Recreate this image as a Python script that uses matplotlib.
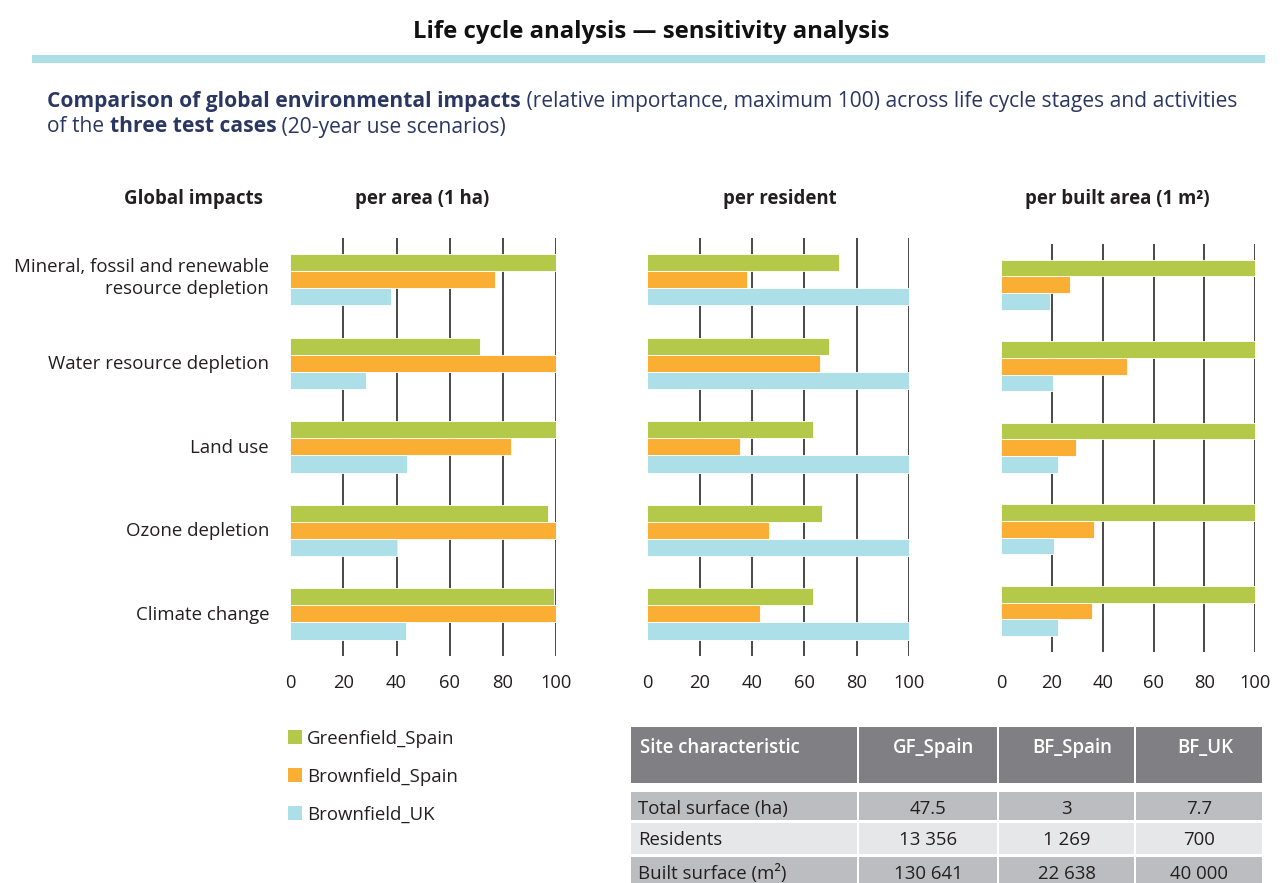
import matplotlib
matplotlib.use("Agg")
import matplotlib.pyplot as plt
from matplotlib.patches import Rectangle

plt.rcParams["font.family"] = ["Open Sans", "DejaVu Sans"]

# ---- data -------------------------------------------------------------
impacts = [
    "Mineral, fossil and renewable\nresource depletion",
    "Water resource depletion",
    "Land use",
    "Ozone depletion",
    "Climate change",
]
series = ["Greenfield_Spain", "Brownfield_Spain", "Brownfield_UK"]
colors = ["#b4c94a", "#faae33", "#addfe8"]

# relative importance (max 100), one list per series, in impact order
per_area = [
    [100, 71.5, 100, 97, 99.3],
    [77, 100, 83, 100, 100],
    [38, 28.5, 44, 40, 43.5],
]
per_resident = [
    [73.3, 69.4, 63.1, 66.8, 63.1],
    [38.2, 65.9, 35.5, 46.6, 43.0],
    [100, 100, 100, 100, 100],
]
per_built = [
    [100, 100, 100, 100, 100],
    [27.2, 49.7, 29.4, 36.4, 35.6],
    [19.2, 20.3, 22.2, 20.9, 22.2],
]
panel_titles = ["per area (1 ha)", "per resident", "per built area (1 m\u00b2)"]
xticks = [0, 20, 40, 60, 80, 100]

table_header = ["Site characteristic", "GF_Spain", "BF_Spain", "BF_UK"]
table_rows = ["Total surface (ha)", "Residents", "Built surface (m\u00b2)"]
table_values = [
    ["47.5", "3", "7.7"],
    ["13 356", "1 269", "700"],
    ["130 641", "22 638", "40 000"],
]

# ---- figure -----------------------------------------------------------
W, H = 1282, 883
fig = plt.figure(figsize=(W / 100, H / 100), dpi=100)
txt = "#231f20"
navy = "#2b3763"
fs = 13.4

# overlay in pixel coordinates for titles, legend, table
ov = fig.add_axes([0, 0, 1, 1])
ov.set_xlim(0, W)
ov.set_ylim(H, 0)
ov.axis("off")


def px_axes(x0, y0, x1, y1):
    return fig.add_axes([x0 / W, 1 - y1 / H, (x1 - x0) / W, (y1 - y0) / H])


panels = [
    (px_axes(290.3, 238, 556, 655.7), per_area, 13),
    (px_axes(647.3, 238, 909.3, 655.7), per_resident, 13),
    (px_axes(1001.3, 244, 1255, 651.7), per_built, 16),
]
h = 0.205
ypos = list(range(len(impacts)))
for ax, data, pad in panels:
    for k, (vals, c) in enumerate(zip(data, colors)):
        ax.barh([y + (k - 1) * h for y in ypos], vals, height=h, color=c,
                edgecolor="white", linewidth=0.6, zorder=3)
    ax.vlines(xticks[1:], -0.5, len(impacts) - 0.5, color="#3a3a3a",
              linewidth=1.3, zorder=2)
    ax.set_xlim(0, 100)
    ax.set_ylim(len(impacts) - 0.5, -0.5)
    ax.set_xticks(xticks)
    ax.set_yticks([])
    ax.tick_params(axis="x", length=0, pad=pad, labelsize=13.2, labelcolor=txt)
    for s in ax.spines.values():
        s.set_visible(False)
    ax.patch.set_alpha(0)

# category labels
ax0 = panels[0][0]
for y, lab in zip(ypos, impacts):
    dy = -0.02 if "\n" in lab else 0.01
    ax0.text(-0.08, y + dy, lab, transform=ax0.get_yaxis_transform(),
             ha="right", va="center", fontsize=fs, color=txt, linespacing=1.3)

# column headers
ov.text(263, 199, "Global impacts", ha="right", va="center", fontsize=fs,
        fontweight="bold", color=txt)
for cx, t in zip([422, 780, 1117], panel_titles):
    ov.text(cx, 199, t, ha="center", va="center", fontsize=fs,
            fontweight="bold", color=txt)

# title and band
ov.text(651, 32, "Life cycle analysis \u2014 sensitivity analysis", ha="center",
        va="center", fontsize=17.2, fontweight="bold", color="#111111")
ov.add_patch(Rectangle((32, 55), 1233, 7.5, color="#addfe7", lw=0))

# subtitle with mixed weights
fig.canvas.draw()
rend = fig.canvas.get_renderer()


def run(parts, x, y):
    for s, bold in parts:
        t = ov.text(x, y, s, ha="left", va="center", fontsize=15.1, color=navy,
                    fontweight="bold" if bold else "normal")
        bb = t.get_window_extent(renderer=rend)
        x += bb.width


run([("Comparison of global environmental impacts", True),
     (" (relative importance, maximum 100) across life cycle stages and activities", False)],
    47, 102)
run([("of the ", False), ("three test cases", True),
     (" (20-year use scenarios)", False)], 47, 127)

# legend
for i, (name, c) in enumerate(zip(series, colors)):
    y = 737 + i * 38
    ov.add_patch(Rectangle((288, y - 7), 14, 14, color=c, lw=0))
    ov.text(307, y + 2, name, ha="left", va="center", fontsize=fs, color=txt)

# table
cols = [(631, 857), (859, 997), (999, 1134), (1136, 1262)]
ov.add_patch(Rectangle((631, 727), 1262 - 631, 56, color="#808084", lw=0))
for (a, b) in cols[1:]:
    ov.add_patch(Rectangle((a - 2, 727), 2, 56, color="white", lw=0))
for j, (lab, (a, b)) in enumerate(zip(table_header, cols)):
    if j == 0:
        ov.text(a + 9, 748, lab, ha="left", va="center", fontsize=fs,
                color="white", fontweight="semibold")
    else:
        ov.text((a + b) / 2 + 6, 748, lab, ha="center", va="center",
                fontsize=fs, color="white", fontweight="semibold")

row_tops = [792, 823, 857]
row_h = [28, 31, 30]
row_col = ["#bcbdc0", "#e6e7e8", "#bcbdc0"]
for r, (lab, vals) in enumerate(zip(table_rows, table_values)):
    top, hh = row_tops[r], row_h[r]
    for (a, b) in cols:
        ov.add_patch(Rectangle((a, top), b - a, hh, color=row_col[r], lw=0))
    cy = top + 17
    ov.text(cols[0][0] + 7, cy, lab, ha="left", va="center", fontsize=fs,
            color=txt)
    for v, (a, b) in zip(vals, cols[1:]):
        ov.text((a + b) / 2, cy, v, ha="center", va="center", fontsize=fs,
                color=txt)

fig.savefig("out.png", dpi=100)
